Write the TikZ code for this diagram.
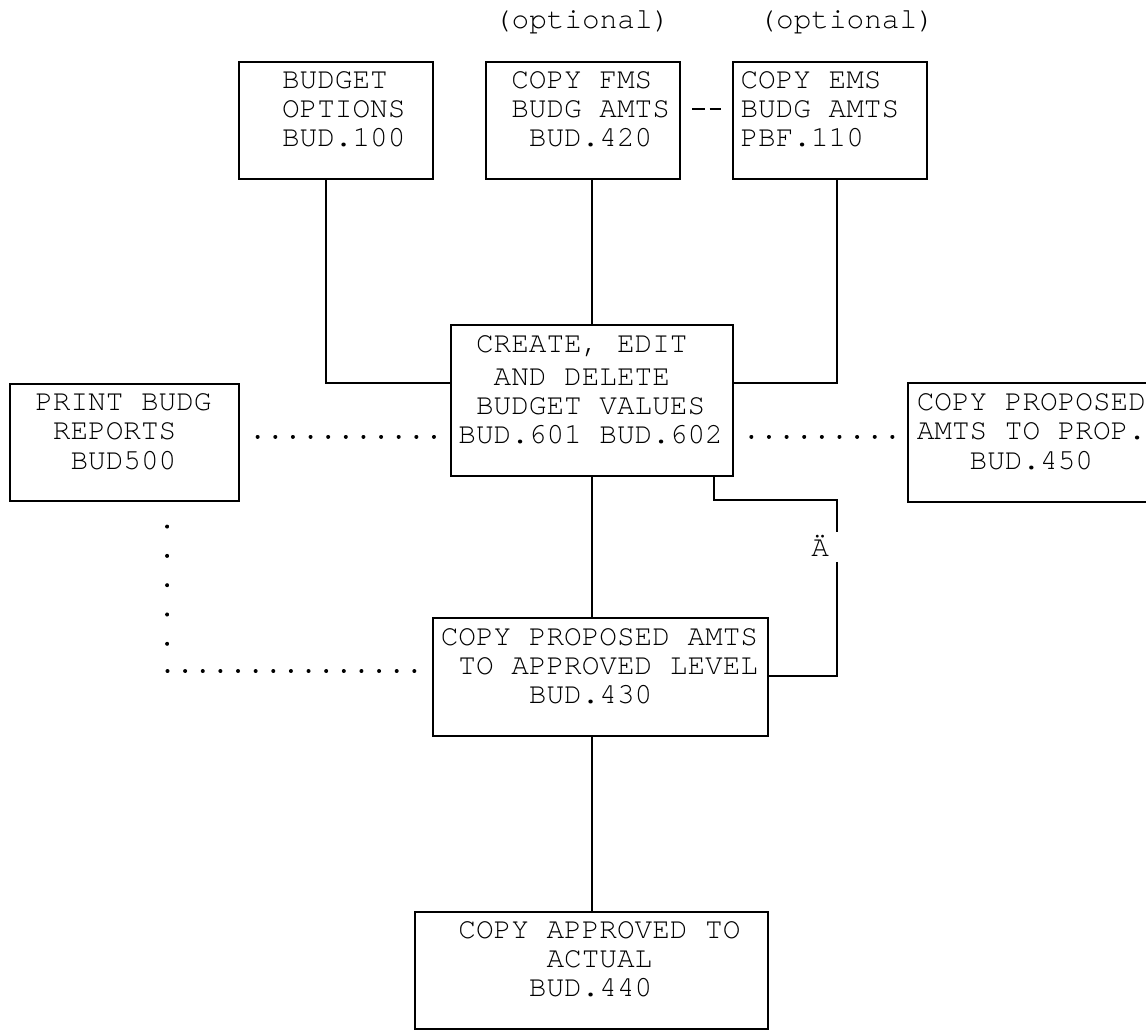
\documentclass[tikz,border=0pt]{standalone}
\usepackage{fontspec}
\newfontfamily\boxfont{texgyrecursor-regular.otf}
\usetikzlibrary{positioning,calc}
\newlength\colw
\setlength\colw{8.82pt}
\newlength\rowh
\setlength\rowh{14.66pt}
\newcommand\tline[2][0]{\spaceskip\colw\xspaceskip\colw\rule[-0.09\rowh]{0pt}{\rowh}\hspace*{#1\colw}#2}
\newcommand\gridfont{\boxfont\fontsize{14.7pt}{14.66pt}\selectfont}
\tikzset{
    box/.style = {
        draw,
        shape=rectangle,
        line width=1pt,
        inner ysep=0pt,
        inner xsep=3.91pt,
        align=left,
        anchor=north west,
        font=\gridfont
    },
    openbox/.style = {
        box,
        draw=none
    },
    note/.style = {
        inner sep=0pt,
        anchor=base west,
        font=\gridfont
    },
    wire/.style = {
        line width=1pt
    },
    optlink/.style = {
        line width=1pt,
        dash pattern=on 6.5pt off 2.3pt,
        shorten <=5.65pt,
        shorten >=5.5pt
    },
    hdots/.style = {
        line width=2pt,
        line cap=round,
        dash pattern=on 0.01pt off 8.81pt
    },
    vdots/.style = {
        line width=2pt,
        line cap=round,
        dash pattern=on 0.01pt off 14.65pt
    },
}
\begin{document}
\begin{tikzpicture}[x=8.82pt, y=-14.66pt]

            \path[fill=white] (-0.5,-0.17) rectangle (64.5,34.95);
            \useasboundingbox (-0.5,-0.17) rectangle (64.5,34.95);

            \node[note] (optfms) at (27.5,0.81) {(optional)};
            \node[note] (optems) at (42.5,0.81) {(optional)};

            \node[box, text width=89.2pt] (budget) at (13,1.9) {\tline[2]{BUDGET}\\\tline[2]{OPTIONS}\\\tline[2]{BUD.100}\\\tline{}};
            \node[box, text width=89.2pt] (fms) at (27,1.9) {\tline[1]{COPY FMS}\\\tline[1]{BUDG AMTS}\\\tline[2]{BUD.420}\\\tline{}};
            \node[box, text width=89.2pt] (ems) at (41,1.9) {\tline{COPY EMS}\\\tline{BUDG AMTS}\\\tline{PBF.110}\\\tline{}};

            \node[box, text width=133.3pt] (create) at (25,10.9) {\tline[1]{CREATE, EDIT}\\\tline[2]{AND DELETE}\\\tline[1]{BUDGET VALUES}\\\tline{BUD.601 BUD.602}\\\tline{}};

            \node[box, text width=106.84pt] (print) at (0,12.9) {\tline[1]{PRINT BUDG}\\\tline[2]{REPORTS}\\\tline[3]{BUD500}\\\tline{}};
            \node[openbox, text width=115.66pt] (prop) at (51,12.9) {\tline{COPY PROPOSED}\\\tline{AMTS TO PROP.}\\\tline[3]{BUD.450}\\\tline{}};

            \node[box, text width=159.76pt] (apprv) at (24,20.9) {\tline{COPY PROPOSED AMTS}\\\tline[1]{TO APPROVED LEVEL}\\\tline[5]{BUD.430}\\\tline{}};

            \node[box, text width=168.58pt] (actual) at (23,30.9) {\tline[2]{COPY APPROVED TO}\\\tline[7]{ACTUAL}\\\tline[6]{BUD.440}\\\tline{}};

            \node[note] (gapmark) at (45.5,18.81) {Ä};

            \coordinate (linkrow) at (39,3.55);
            \coordinate (budgdrop) at (18,12.9);
            \coordinate (emsdrop) at (47,12.9);
            \coordinate (dotrow) at (19,14.73);
            \coordinate (levelfork) at (40,16.9);
            \coordinate (levelturn) at (47,16.9);
            \coordinate (gaptop) at (47,18);
            \coordinate (gapbot) at (47,19);
            \coordinate (levelback) at (47,22.9);
            \coordinate (dotcorner) at (9,22.73);

            \path[draw, wire] (prop.north east) -- (prop.north west) -- (prop.south west) -- (prop.south east);

            \path[draw, optlink] (fms.east |- linkrow) -- (ems.west |- linkrow);

            \path[draw, wire] (budget.south -| budgdrop) |- (create.west |- budgdrop);
            \path[draw, wire] (create.north |- fms.south) -- (create.north);
            \path[draw, wire] (ems.south -| emsdrop) |- (create.east |- emsdrop);

            \path[draw, hdots, shorten <=8.82pt, shorten >=4.41pt] (print.east |- dotrow) -- (create.west |- dotrow);
            \path[draw, hdots, shorten <=8.82pt, shorten >=4.41pt] (create.east |- dotrow) -- (prop.west |- dotrow);

            \path[draw, wire] (create.south) -- (create.south |- apprv.north);
            \path[draw, wire] (create.south -| levelfork) -- (levelfork) -- (levelturn) -- (gaptop);
            \path[draw, wire] (gapbot) |- (apprv.east |- levelback);

            \path[draw, vdots, shorten <=12.17pt, shorten >=7.33pt] (print.south -| dotcorner) -- (dotcorner);
            \path[draw, hdots, shorten >=4.41pt] (dotcorner) -- (apprv.west |- dotcorner);

            \path[draw, wire] (actual.north |- apprv.south) -- (actual.north);

        \end{tikzpicture}
\end{document}
